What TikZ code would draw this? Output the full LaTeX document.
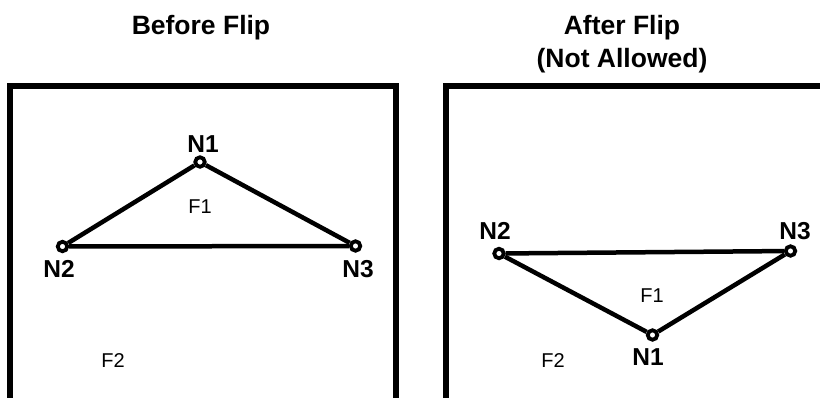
\documentclass[tikz,border=0pt]{standalone}
\usepackage{fontspec}
\setmainfont{Liberation Sans}
\begin{document}
\begin{tikzpicture}[x=1pt,y=-1pt,
  frame/.style={line width=6pt,line join=miter},
  edge/.style={line width=4.5pt},
  vtx/.style={circle,draw,fill=white,line width=3.8pt,minimum size=9.5pt,inner sep=0pt},
  title/.style={anchor=base,inner sep=0pt,font=\fontsize{26.5}{30}\selectfont\bfseries},
  nlab/.style={anchor=base,inner sep=0pt,font=\fontsize{24.5}{28}\selectfont\bfseries},
  flab/.style={anchor=base,inner sep=0pt,font=\fontsize{20}{24}\selectfont}]
\useasboundingbox (0,0) rectangle (820,397);
\begin{scope}
\clip (0,0) rectangle (820,397);
% frames
\draw[frame] (10,410) -- (10,86) -- (395.5,86) -- (395.5,410);
\draw[frame] (446,410) -- (446,86) -- (830,86);
% titles
\node[title] (t1) at (201,34) {Before Flip};
\node[title] (t2) at (622,34) {After Flip};
\node[title] (t3) at (622,67) {(Not Allowed)};
% left triangle
\node[vtx] (a1) at (200,162) {};
\node[vtx] (a2) at (62.5,246.5) {};
\node[vtx] (a3) at (355.5,246) {};
\draw[edge] (a1) -- (a2);
\draw[edge] (a1) -- (a3);
\draw[edge] (a2) -- (a3);
\node[nlab] (la1) at (203,152) {N1};
\node[nlab] (la2) at (59,277) {N2};
\node[nlab] (la3) at (358,277) {N3};
\node[flab] (fa1) at (200,213) {F1};
\node[flab] (fa2) at (113,367) {F2};
% right triangle
\node[vtx] (b1) at (652.5,335) {};
\node[vtx] (b2) at (499,253.5) {};
\node[vtx] (b3) at (790.5,251) {};
\draw[edge] (b2) -- (b3);
\draw[edge] (b2) -- (b1);
\draw[edge] (b1) -- (b3);
\node[nlab] (lb1) at (648,365) {N1};
\node[nlab] (lb2) at (495,239) {N2};
\node[nlab] (lb3) at (795,239) {N3};
\node[flab] (fb1) at (652,302) {F1};
\node[flab] (fb2) at (553,367) {F2};
\end{scope}
\end{tikzpicture}
\end{document}
